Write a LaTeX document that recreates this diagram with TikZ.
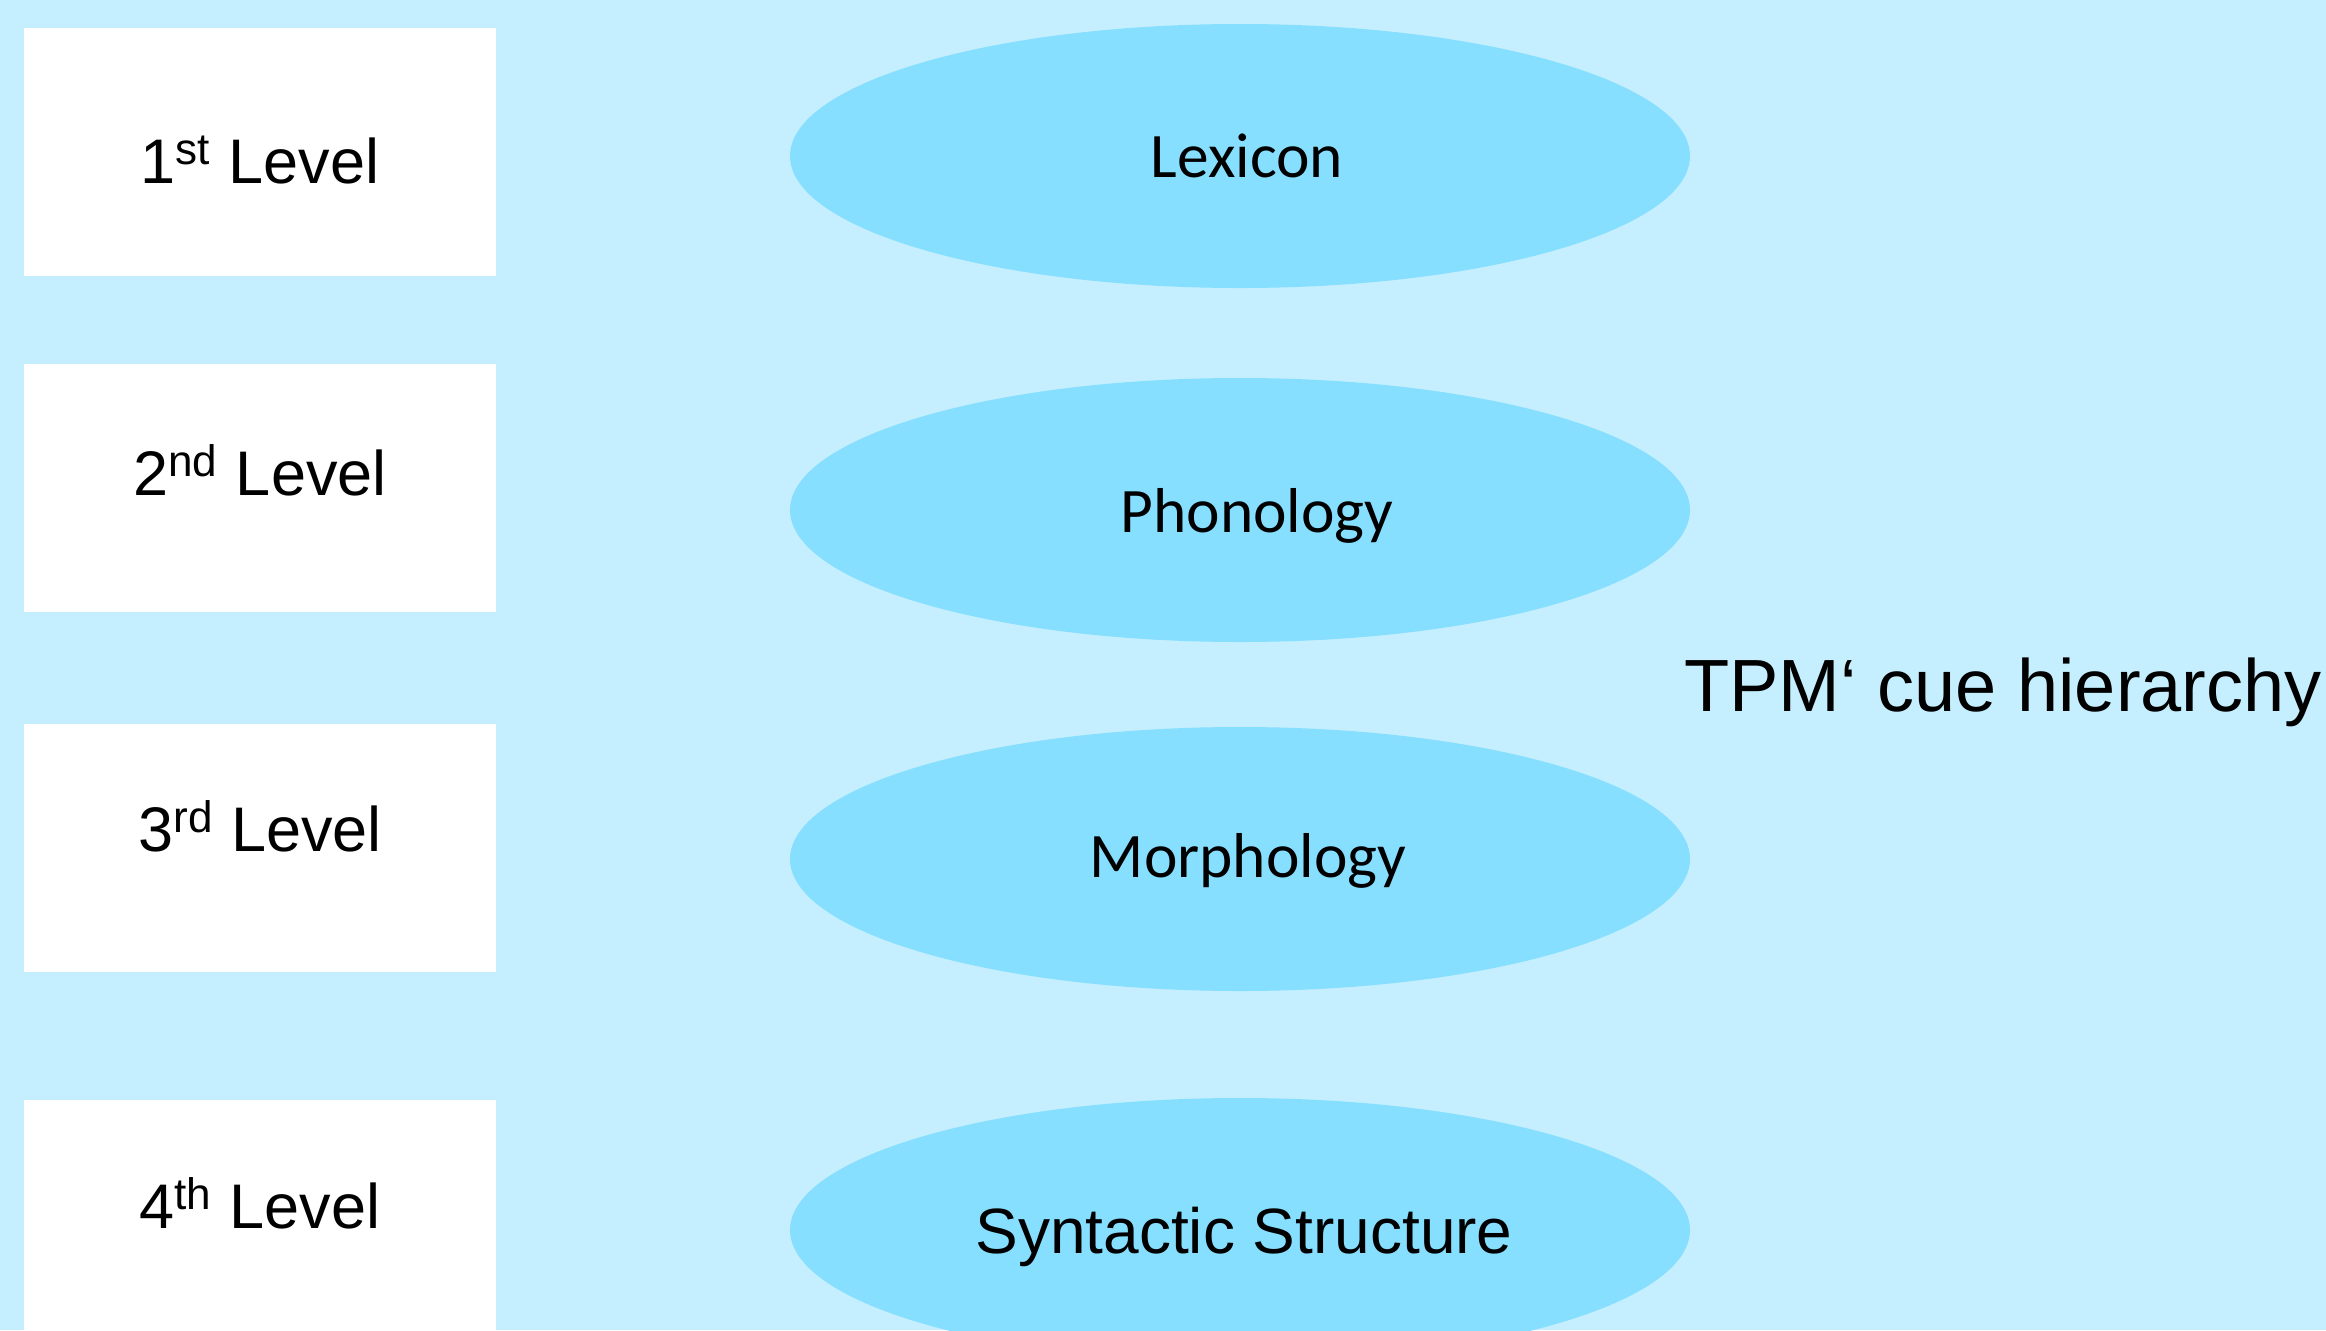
\documentclass[tikz,border=0pt]{standalone}
\usepackage{fontspec}
\setmainfont{Liberation Sans}
\newfontfamily\calib{Carlito}
\usetikzlibrary{shapes.geometric}
\definecolor{bgblue}{RGB}{197,239,254}
\definecolor{ellblue}{RGB}{135,223,255}
\tikzset{
  levelbox/.style={rectangle, fill=white, draw=none, anchor=north west, minimum width=236pt, minimum height=124pt, inner sep=0pt},
  cue/.style={ellipse, fill=ellblue, draw=none, minimum width=450pt, minimum height=132pt, inner sep=0pt},
  leveltext/.style={anchor=base, inner sep=0pt, font=\fontsize{31.5pt}{38pt}\selectfont},
  cuetext/.style={anchor=base, inner sep=0pt, font=\calib\fontsize{31.7pt}{36pt}\selectfont},
}
\begin{document}
\begin{tikzpicture}[x=0.5pt, y=-0.5pt]
\useasboundingbox (0,0) rectangle (2326,1330);
\clip (0,0) rectangle (2326,1330);
\fill[bgblue] (0,0) rectangle (2326,1330);
% level boxes
\node[levelbox] (b1) at (24,28) {};
\node[levelbox] (b2) at (24,364) {};
\node[levelbox] (b3) at (24,724) {};
\node[levelbox] (b4) at (24,1100) {};
\node[leveltext] (t1) at (260,183) {1\textsuperscript{st} Level};
\node[leveltext] (t2) at (260,495) {2\textsuperscript{nd} Level};
\node[leveltext] (t3) at (260,851) {3\textsuperscript{rd} Level};
\node[leveltext] (t4) at (260,1228) {4\textsuperscript{th} Level};
% ellipses
\node[cue] (e1) at (1240,156) {};
\node[cue] (e2) at (1240,510) {};
\node[cue] (e3) at (1240,859) {};
\node[cue] (e4) at (1240,1230) {};
\node[cuetext] (c1) at (1247,177) {Lexicon};
\node[cuetext] (c2) at (1257,532) {Phonology};
\node[cuetext] (c3) at (1248,877) {Morphology};
\node[anchor=base, inner sep=0pt, font=\fontsize{32pt}{38pt}\selectfont] (c4) at (1244,1253) {Syntactic Structure};
% title
\node[anchor=base west, inner sep=0pt, font=\fontsize{37pt}{44pt}\selectfont] (title) at (1684,711) {TPM‘ cue hierarchy};
\end{tikzpicture}
\end{document}
